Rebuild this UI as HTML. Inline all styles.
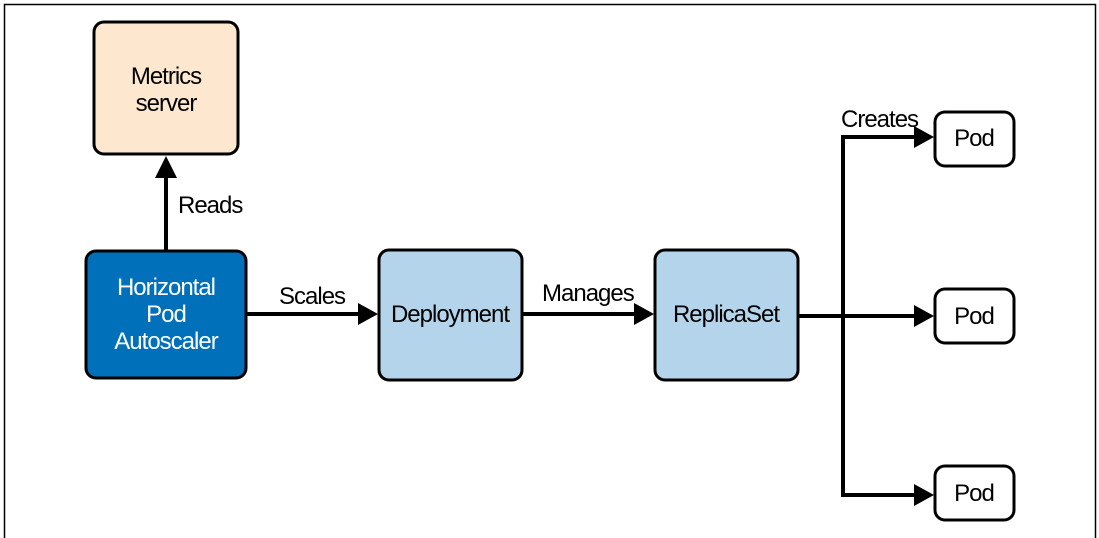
<!DOCTYPE html>
<html><head><meta charset="utf-8"><style>
html,body{margin:0;padding:0;background:#fff;width:1099px;height:538px;overflow:hidden}
text{font-family:"Liberation Sans",sans-serif;font-size:24px;letter-spacing:-1px}
</style></head><body>
<svg width="1099" height="538" viewBox="0 0 1099 538" xmlns="http://www.w3.org/2000/svg">
<path d="M4.5,540 V4.5 H1095.5 V540" fill="none" stroke="#000" stroke-width="1.5"/>
<g stroke="#000" stroke-width="3">
<rect x="94" y="22" width="144" height="132" rx="10" fill="#fde7cf"/>
<rect x="86" y="251" width="160" height="127" rx="10" fill="#0070bb"/>
<rect x="379" y="250" width="143" height="130" rx="10" fill="#b3d4ea"/>
<rect x="655" y="250" width="143" height="130" rx="10" fill="#b3d4ea"/>
<rect x="935" y="112" width="79" height="54" rx="10" fill="#fff"/>
<rect x="935" y="289" width="79" height="54" rx="10" fill="#fff"/>
<rect x="935" y="466" width="79" height="54" rx="10" fill="#fff"/>
</g>
<g stroke="#000" stroke-width="4" fill="none">
<path d="M166,250 V178"/>
<path d="M246,314 H358"/>
<path d="M522,314 H634"/>
<path d="M798,316 H914"/>
<path d="M914,137 H843 V495 H914"/>
</g>
<g fill="#000">
<path d="M155,178 L166,156 L177,178 z"/>
<path d="M358,303 L378,314 L358,325 z"/>
<path d="M634,303 L654,314 L634,325 z"/>
<path d="M914,126 L934,137 L914,148 z"/>
<path d="M914,305 L934,316 L914,327 z"/>
<path d="M914,484 L934,495 L914,506 z"/>
</g>
<g text-anchor="middle">
<text x="166" y="84">Metrics</text>
<text x="166" y="111">server</text>
<text x="166" y="295" fill="#fff">Horizontal</text>
<text x="166" y="322" fill="#fff">Pod</text>
<text x="166" y="349" fill="#fff">Autoscaler</text>
<text x="450" y="322">Deployment</text>
<text x="726" y="322">ReplicaSet</text>
<text x="974" y="146">Pod</text>
<text x="974" y="324">Pod</text>
<text x="974" y="501">Pod</text>
</g>
<text x="178" y="213">Reads</text>
<text x="279" y="304">Scales</text>
<text x="542" y="301">Manages</text>
<text x="841" y="127">Creates</text>
</svg>
</body></html>
